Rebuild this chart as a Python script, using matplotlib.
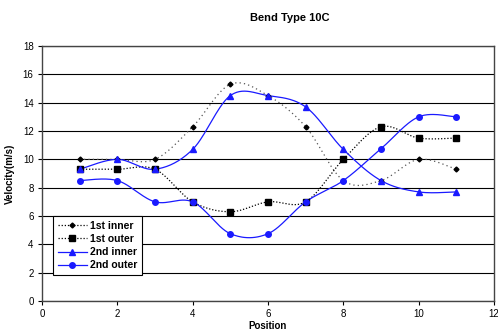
import numpy as np
import matplotlib
matplotlib.use("Agg")
import matplotlib.pyplot as plt
from matplotlib.lines import Line2D

plt.rcParams['font.family'] = ['Liberation Sans', 'DejaVu Sans']

# data
position = [1, 2, 3, 4, 5, 6, 7, 8, 9, 10, 11]
first_inner = [10.0, 10.0, 10.0, 12.3, 15.3, 14.5, 12.3, 8.5, 8.5, 10.0, 9.3]
first_outer = [9.3, 9.3, 9.3, 7.0, 6.3, 7.0, 7.0, 10.0, 12.3, 11.5, 11.5]
second_inner = [9.3, 10.0, 9.3, 10.7, 14.5, 14.5, 13.7, 10.7, 8.5, 7.7, 7.7]
second_outer = [8.5, 8.5, 7.0, 7.0, 4.75, 4.75, 7.0, 8.5, 10.75, 13.0, 13.0]


def smooth(x, y, n=30):
    # Excel style smoothed line (cubic bezier, catmull-rom control points)
    x = np.asarray(x, float)
    y = np.asarray(y, float)
    px = np.concatenate([[x[0]], x, [x[-1]]])
    py = np.concatenate([[y[0]], y, [y[-1]]])
    xs, ys = [], []
    t = np.linspace(0, 1, n)
    for i in range(1, len(px) - 2):
        p0 = np.array([px[i], py[i]])
        p3 = np.array([px[i + 1], py[i + 1]])
        p1 = p0 + (np.array([px[i + 1], py[i + 1]]) - np.array([px[i - 1], py[i - 1]])) / 6
        p2 = p3 - (np.array([px[i + 2], py[i + 2]]) - np.array([px[i], py[i]])) / 6
        b = ((1 - t) ** 3)[:, None] * p0 + (3 * (1 - t) ** 2 * t)[:, None] * p1 \
            + (3 * (1 - t) * t ** 2)[:, None] * p2 + (t ** 3)[:, None] * p3
        xs.extend(b[:, 0])
        ys.extend(b[:, 1])
    return xs, ys


fig = plt.figure(figsize=(4.98, 3.34), dpi=100)
ax = fig.add_axes([42 / 498, 1 - 301 / 334, 452 / 498, 255 / 334])

blue = "#1a1aff"
series = [
    (first_inner, "1st inner", "#555555", (0, (1, 2.5)), "D", 2.5, "black"),
    (first_outer, "1st outer", "black", (0, (1, 1.5)), "s", 4.0, "black"),
    (second_inner, "2nd inner", blue, "-", "^", 4.0, blue),
    (second_outer, "2nd outer", blue, "-", "o", 4.0, blue),
]

handles = []
for vals, name, col, ls, mk, ms, mc in series:
    sx, sy = smooth(position, vals)
    ax.plot(sx, sy, color=col, linestyle=ls, linewidth=0.9, zorder=3)
    ax.plot(position, vals, linestyle="none", marker=mk, markersize=ms,
            color=mc, zorder=4)
    leg_col = col if ls == "-" else "black"
    leg_ls = "-" if ls == "-" else (0, (1, 1.5))
    handles.append(Line2D([], [], color=leg_col, linestyle=leg_ls,
                          linewidth=0.9, marker=mk, markersize=ms,
                          markerfacecolor=mc, markeredgecolor=mc, label=name))

ax.set_xlim(0, 12)
ax.set_ylim(0, 18)
ax.set_xticks(range(0, 13, 2))
ax.set_yticks(range(0, 19, 2))
ax.yaxis.grid(True, color="black", linewidth=0.8)
ax.set_axisbelow(True)
for s in ax.spines.values():
    s.set_color("#444444")
    s.set_linewidth(1.0)
ax.tick_params(labelsize=7, length=3, width=0.8, pad=3)

ax.set_xlabel("Position", fontsize=7, fontweight="bold", labelpad=1)
ax.set_ylabel("Velocity(m/s)", fontsize=7, fontweight="bold", labelpad=6)
fig.text(290 / 498, 1 - 18 / 334, "Bend Type 10C", fontsize=8,
         fontweight="bold", ha="center", va="center")

leg = ax.legend(handles=handles, loc="lower left", bbox_to_anchor=(0.024, 0.102),
                prop={"weight": "bold", "size": 7.5},
                fancybox=False, framealpha=1, edgecolor="black",
                handlelength=2.8, handletextpad=0.3, labelspacing=0.3,
                borderpad=0.45, borderaxespad=0)
leg.get_frame().set_linewidth(0.8)

fig.savefig("out.png", dpi=100)
